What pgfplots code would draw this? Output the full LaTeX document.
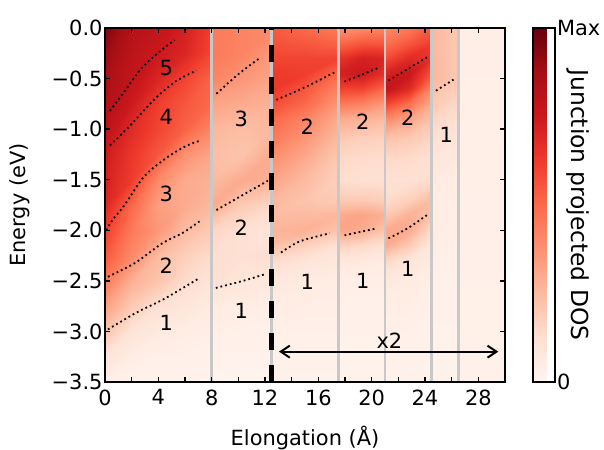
\documentclass[border=0pt]{standalone}
\usepackage{fontspec}
\setmainfont{DejaVu Sans}
\usepackage{pgfplots}
\pgfplotsset{compat=1.18}
\usetikzlibrary{arrows.meta}
\definecolor{lgray}{RGB}{200,200,200}
\newcommand{\bigf}{\fontsize{21}{25}\selectfont}
\begin{document}
\begin{tikzpicture}[font=\bigf, every node/.append style={font=\bigf}]
\useasboundingbox (-105bp,-68bp) rectangle (499bp,382bp);
\begin{axis}[
  scale only axis, width=400bp, height=354bp,
  xmin=0, xmax=30, ymin=-3.5, ymax=0,
  axis on top,
  tick label style={font=\bigf},
  label style={font=\bigf},
  xtick={0,4,8,12,16,20,24,28}, xticklabels={0,4,8,12,16,20,24,28},
  minor xtick={2,6,10,14,18,22,26},
  ytick={-3.5,-3,-2.5,-2,-1.5,-1,-0.5,0},
  yticklabels={−3.5,−3.0,−2.5,−2.0,−1.5,−1.0,−0.5,0.0},
  tick align=inside, major tick length=5bp, minor tick length=5bp,
  every tick/.style={black, line width=1.4bp},
  axis line style={line width=2.4bp},
  xticklabel style={yshift=-4bp},
  yticklabel style={xshift=1bp},
  xlabel={Elongation (Å)}, ylabel={Energy (eV)},
  xlabel style={at={(axis description cs:0.5,-0.158)}, anchor=center},
  ylabel style={at={(axis description cs:-0.2125,0.5)}, anchor=center},
  colormap={reds}{rgb255=(255,245,240) rgb255=(254,224,210) rgb255=(252,187,161) rgb255=(252,146,114) rgb255=(251,106,74) rgb255=(239,59,44) rgb255=(203,24,29) rgb255=(165,15,21) rgb255=(103,0,13)},
  point meta min=0, point meta max=1,
  colorbar,
  colorbar style={
    at={(parent axis.north east)}, anchor=north west, xshift=19bp,
    width=22bp,
    ytick={0,1}, yticklabels={0,Max},
    yticklabel pos=right,
    tick label style={font=\bigf},
    yticklabel style={xshift=-1bp},
    major tick length=0pt,
    ytick style={draw=none},
    axis line style={line width=2bp},
    ylabel={Junction projected DOS},
    ylabel style={font=\fontsize{23.5}{27}\selectfont, at={(axis description cs:2.05,0.5)}, rotate=180, anchor=center},
  },
]
% region A-B
\addplot[surf, shader=interp, point meta=explicit, mesh/cols=5] table[x=x, y=y, meta=c] {
x y c
0 0 0.95
2 0 0.83
4 0 0.78
6 0 0.72
7.9 0 0.62
0 -0.25 0.90
2 -0.25 0.80
4 -0.25 0.75
6 -0.25 0.70
7.9 -0.25 0.60
0 -0.5 0.86
2 -0.5 0.78
4 -0.5 0.70
6 -0.5 0.60
7.9 -0.5 0.52
0 -0.75 0.84
2 -0.75 0.74
4 -0.75 0.62
6 -0.75 0.55
7.9 -0.75 0.50
0 -1.0 0.80
2 -1.0 0.68
4 -1.0 0.60
6 -1.0 0.52
7.9 -1.0 0.42
0 -1.25 0.74
2 -1.25 0.64
4 -1.25 0.55
6 -1.25 0.38
7.9 -1.25 0.32
0 -1.5 0.72
2 -1.5 0.62
4 -1.5 0.40
6 -1.5 0.30
7.9 -1.5 0.28
0 -1.75 0.70
2 -1.75 0.50
4 -1.75 0.34
6 -1.75 0.30
7.9 -1.75 0.26
0 -2.0 0.62
2 -2.0 0.45
4 -2.0 0.36
6 -2.0 0.25
7.9 -2.0 0.20
0 -2.25 0.55
2 -2.25 0.40
4 -2.25 0.25
6 -2.25 0.18
7.9 -2.25 0.14
0 -2.5 0.45
2 -2.5 0.28
4 -2.5 0.22
6 -2.5 0.14
7.9 -2.5 0.10
0 -2.75 0.33
2 -2.75 0.20
4 -2.75 0.12
6 -2.75 0.09
7.9 -2.75 0.06
0 -3.0 0.22
2 -3.0 0.10
4 -3.0 0.07
6 -3.0 0.05
7.9 -3.0 0.04
0 -3.25 0.10
2 -3.25 0.05
4 -3.25 0.03
6 -3.25 0.03
7.9 -3.25 0.02
0 -3.5 0.04
2 -3.5 0.02
4 -3.5 0.02
6 -3.5 0.02
7.9 -3.5 0.01
};
% region C
\addplot[surf, shader=interp, point meta=explicit, mesh/cols=3] table[x=x, y=y, meta=c] {
x y c
8.0 0 0.45
10.3 0 0.42
12.5 0 0.40
8.0 -0.25 0.45
10.3 -0.25 0.42
12.5 -0.25 0.36
8.0 -0.5 0.42
10.3 -0.5 0.36
12.5 -0.5 0.32
8.0 -0.75 0.32
10.3 -0.75 0.30
12.5 -0.75 0.28
8.0 -1.0 0.26
10.3 -1.0 0.24
12.5 -1.0 0.26
8.0 -1.25 0.24
10.3 -1.25 0.22
12.5 -1.25 0.30
8.0 -1.5 0.25
10.3 -1.5 0.30
12.5 -1.5 0.28
8.0 -1.75 0.30
10.3 -1.75 0.20
12.5 -1.75 0.15
8.0 -2.0 0.16
10.3 -2.0 0.12
12.5 -2.0 0.10
8.0 -2.25 0.13
10.3 -2.25 0.12
12.5 -2.25 0.13
8.0 -2.5 0.12
10.3 -2.5 0.09
12.5 -2.5 0.08
8.0 -2.75 0.06
10.3 -2.75 0.05
12.5 -2.75 0.04
8.0 -3.0 0.04
10.3 -3.0 0.03
12.5 -3.0 0.03
8.0 -3.25 0.02
10.3 -3.25 0.02
12.5 -3.25 0.02
8.0 -3.5 0.01
10.3 -3.5 0.01
12.5 -3.5 0.01
};
% region D
\addplot[surf, shader=interp, point meta=explicit, mesh/cols=3] table[x=x, y=y, meta=c] {
x y c
12.5 0 0.55
15.0 0 0.50
17.5 0 0.45
12.5 -0.15 0.57
15.0 -0.15 0.55
17.5 -0.15 0.52
12.5 -0.3 0.60
15.0 -0.3 0.60
17.5 -0.3 0.60
12.5 -0.45 0.63
15.0 -0.45 0.62
17.5 -0.45 0.50
12.5 -0.6 0.64
15.0 -0.6 0.55
17.5 -0.6 0.42
12.5 -0.75 0.58
15.0 -0.75 0.50
17.5 -0.75 0.36
12.5 -0.9 0.50
15.0 -0.9 0.42
17.5 -0.9 0.30
12.5 -1.1 0.45
15.0 -1.1 0.36
17.5 -1.1 0.25
12.5 -1.3 0.38
15.0 -1.3 0.30
17.5 -1.3 0.20
12.5 -1.5 0.32
15.0 -1.5 0.25
17.5 -1.5 0.18
12.5 -1.7 0.26
15.0 -1.7 0.22
17.5 -1.7 0.20
12.5 -1.85 0.25
15.0 -1.85 0.25
17.5 -1.85 0.26
12.5 -2.0 0.27
15.0 -2.0 0.28
17.5 -2.0 0.22
12.5 -2.15 0.24
15.0 -2.15 0.18
17.5 -2.15 0.12
12.5 -2.3 0.14
15.0 -2.3 0.10
17.5 -2.3 0.08
12.5 -2.5 0.08
15.0 -2.5 0.06
17.5 -2.5 0.05
12.5 -2.8 0.05
15.0 -2.8 0.04
17.5 -2.8 0.04
12.5 -3.1 0.03
15.0 -3.1 0.03
17.5 -3.1 0.03
12.5 -3.5 0.02
15.0 -3.5 0.02
17.5 -3.5 0.02
};
% region E
\addplot[surf, shader=interp, point meta=explicit, mesh/cols=3] table[x=x, y=y, meta=c] {
x y c
17.5 0 0.38
19.3 0 0.40
21.0 0 0.42
17.5 -0.15 0.50
19.3 -0.15 0.55
21.0 -0.15 0.55
17.5 -0.3 0.65
19.3 -0.3 0.72
21.0 -0.3 0.70
17.5 -0.45 0.72
19.3 -0.45 0.75
21.0 -0.45 0.65
17.5 -0.6 0.60
19.3 -0.6 0.60
21.0 -0.6 0.50
17.5 -0.75 0.45
19.3 -0.75 0.42
21.0 -0.75 0.35
17.5 -0.9 0.30
19.3 -0.9 0.28
21.0 -0.9 0.25
17.5 -1.1 0.20
19.3 -1.1 0.18
21.0 -1.1 0.17
17.5 -1.3 0.15
19.3 -1.3 0.14
21.0 -1.3 0.13
17.5 -1.5 0.13
19.3 -1.5 0.12
21.0 -1.5 0.12
17.5 -1.7 0.20
19.3 -1.7 0.20
21.0 -1.7 0.18
17.5 -1.85 0.30
19.3 -1.85 0.32
21.0 -1.85 0.28
17.5 -2.0 0.32
19.3 -2.0 0.30
21.0 -2.0 0.22
17.5 -2.15 0.18
19.3 -2.15 0.15
21.0 -2.15 0.12
17.5 -2.3 0.08
19.3 -2.3 0.07
21.0 -2.3 0.06
17.5 -2.5 0.04
19.3 -2.5 0.04
21.0 -2.5 0.04
17.5 -2.8 0.03
19.3 -2.8 0.03
21.0 -2.8 0.03
17.5 -3.1 0.02
19.3 -3.1 0.02
21.0 -3.1 0.02
17.5 -3.5 0.02
19.3 -3.5 0.02
21.0 -3.5 0.02
};
% region F
\addplot[surf, shader=interp, point meta=explicit, mesh/cols=3] table[x=x, y=y, meta=c] {
x y c
21.0 0 0.40
22.8 0 0.45
24.5 0 0.55
21.0 -0.15 0.48
22.8 -0.15 0.55
24.5 -0.15 0.62
21.0 -0.3 0.58
22.8 -0.3 0.68
24.5 -0.3 0.65
21.0 -0.45 0.72
22.8 -0.45 0.76
24.5 -0.45 0.55
21.0 -0.6 0.78
22.8 -0.6 0.68
24.5 -0.6 0.40
21.0 -0.75 0.60
22.8 -0.75 0.48
24.5 -0.75 0.30
21.0 -0.9 0.40
22.8 -0.9 0.32
24.5 -0.9 0.22
21.0 -1.1 0.22
22.8 -1.1 0.20
24.5 -1.1 0.16
21.0 -1.3 0.15
22.8 -1.3 0.14
24.5 -1.3 0.12
21.0 -1.5 0.12
22.8 -1.5 0.12
24.5 -1.5 0.14
21.0 -1.7 0.14
22.8 -1.7 0.18
24.5 -1.7 0.25
21.0 -1.85 0.20
22.8 -1.85 0.28
24.5 -1.85 0.22
21.0 -2.0 0.30
22.8 -2.0 0.30
24.5 -2.0 0.14
21.0 -2.15 0.30
22.8 -2.15 0.20
24.5 -2.15 0.08
21.0 -2.3 0.15
22.8 -2.3 0.10
24.5 -2.3 0.06
21.0 -2.5 0.07
22.8 -2.5 0.06
24.5 -2.5 0.04
21.0 -2.8 0.04
22.8 -2.8 0.04
24.5 -2.8 0.03
21.0 -3.1 0.03
22.8 -3.1 0.03
24.5 -3.1 0.02
21.0 -3.5 0.02
22.8 -3.5 0.02
24.5 -3.5 0.02
};
% region G
\addplot[surf, shader=interp, point meta=explicit, mesh/cols=2] table[x=x, y=y, meta=c] {
x y c
24.5 0 0.26
26.5 0 0.20
24.5 -0.25 0.26
26.5 -0.25 0.20
24.5 -0.5 0.26
26.5 -0.5 0.20
24.5 -0.75 0.20
26.5 -0.75 0.15
24.5 -1.0 0.14
26.5 -1.0 0.10
24.5 -1.25 0.10
26.5 -1.25 0.07
24.5 -1.5 0.07
26.5 -1.5 0.05
24.5 -1.75 0.05
26.5 -1.75 0.04
24.5 -2.0 0.05
26.5 -2.0 0.04
24.5 -2.25 0.04
26.5 -2.25 0.03
24.5 -2.5 0.03
26.5 -2.5 0.03
24.5 -2.75 0.03
26.5 -2.75 0.03
24.5 -3.0 0.02
26.5 -3.0 0.02
24.5 -3.25 0.02
26.5 -3.25 0.02
24.5 -3.5 0.02
26.5 -3.5 0.02
};
% region H
\addplot[surf, shader=interp, point meta=explicit, mesh/cols=2] table[x=x, y=y, meta=c] {
x y c
26.5 0 0.04
30 0 0.04
26.5 -3.5 0.03
30 -3.5 0.03
};
% gray separators
\addplot[lgray, line width=2.7bp] coordinates {(8,-3.5) (8,0)};
\addplot[lgray, line width=2.7bp] coordinates {(12.5,-3.5) (12.5,0)};
\addplot[lgray, line width=2.7bp] coordinates {(17.5,-3.5) (17.5,0)};
\addplot[lgray, line width=2.7bp] coordinates {(21.0,-3.5) (21.0,0)};
\addplot[lgray, line width=2.7bp] coordinates {(24.5,-3.5) (24.5,0)};
\addplot[lgray, line width=2.7bp] coordinates {(26.5,-3.5) (26.5,0)};
% dotted band lines
\pgfplotsset{dotline/.style={black, line width=1.8bp, dash pattern=on 1.8bp off 3bp, smooth}}
\addplot[dotline] coordinates {(0.37,-0.82) (1.55,-0.61) (2.66,-0.41) (3.67,-0.28) (5.2,-0.12)};
\addplot[dotline] coordinates {(0.37,-1.16) (1.92,-0.96) (3.67,-0.71) (5.28,-0.53) (6.85,-0.42)};
\addplot[dotline] coordinates {(0.1,-2.0) (0.55,-1.9) (1.47,-1.75) (2.92,-1.47) (4.54,-1.29) (6.03,-1.17) (7.2,-1.11)};
\addplot[dotline] coordinates {(0.22,-2.46) (2.29,-2.32) (4.28,-2.13) (5.9,-2.02) (7.1,-1.91)};
\addplot[dotline] coordinates {(0.22,-2.98) (2.41,-2.81) (4.42,-2.68) (6.98,-2.48)};
\addplot[dotline] coordinates {(8.36,-0.65) (9.97,-0.46) (11.68,-0.29)};
\addplot[dotline] coordinates {(8.36,-1.80) (10.35,-1.65) (12.22,-1.51)};
\addplot[dotline] coordinates {(8.31,-2.57) (10.35,-2.50) (12.1,-2.43)};
\addplot[dotline] coordinates {(12.85,-0.71) (15.09,-0.58) (17.2,-0.44)};
\addplot[dotline] coordinates {(13.2,-2.22) (14.6,-2.11) (16.85,-2.03)};
\addplot[dotline] coordinates {(17.96,-0.53) (20.58,-0.39)};
\addplot[dotline] coordinates {(17.96,-2.05) (20.4,-1.98)};
\addplot[dotline] coordinates {(21.26,-0.52) (24.15,-0.29)};
\addplot[dotline] coordinates {(21.26,-2.08) (22.7,-1.98) (24.25,-1.84)};
\addplot[dotline] coordinates {(24.82,-0.62) (26.14,-0.51)};
% dashed black line
\addplot[black, line width=4.5bp, dash pattern=on 16.5bp off 15.5bp] coordinates {(12.5,-3.5) (12.5,0)};
% arrow
\addplot[black, line width=2bp, {Straight Barb[length=9bp,width=12bp]}-{Straight Barb[length=9bp,width=12bp]}] coordinates {(13.05,-3.2) (29.5,-3.2)};
\node at (axis cs:21.33,-3.09) {x2};
% band count labels
\node at (axis cs:4.6,-0.40) {5};
\node at (axis cs:4.6,-0.876) {4};
\node at (axis cs:4.6,-1.64) {3};
\node at (axis cs:4.6,-2.35) {2};
\node at (axis cs:4.6,-2.92) {1};
\node at (axis cs:10.23,-0.90) {3};
\node at (axis cs:10.23,-1.97) {2};
\node at (axis cs:10.23,-2.80) {1};
\node at (axis cs:15.17,-0.98) {2};
\node at (axis cs:15.17,-2.51) {1};
\node at (axis cs:19.33,-0.93) {2};
\node at (axis cs:19.33,-2.50) {1};
\node at (axis cs:22.7,-0.885) {2};
\node at (axis cs:22.7,-2.38) {1};
\node at (axis cs:25.6,-1.06) {1};
% top letters
\node[blue, anchor=base, yshift=6bp] at (axis cs:0,0) {A};
\node[blue, anchor=base, yshift=6bp] at (axis cs:6,0) {B};
\node[blue, anchor=base, yshift=6bp] at (axis cs:10,0) {C};
\node[blue, anchor=base, yshift=6bp] at (axis cs:14,0) {D};
\node[blue, anchor=base, yshift=6bp] at (axis cs:20,0) {E};
\node[blue, anchor=base, yshift=6bp] at (axis cs:22,0) {F};
\node[blue, anchor=base, yshift=6bp] at (axis cs:26,0) {G};
\node[blue, anchor=base, yshift=6bp] at (axis cs:28,0) {H};
\end{axis}
\end{tikzpicture}
\end{document}
